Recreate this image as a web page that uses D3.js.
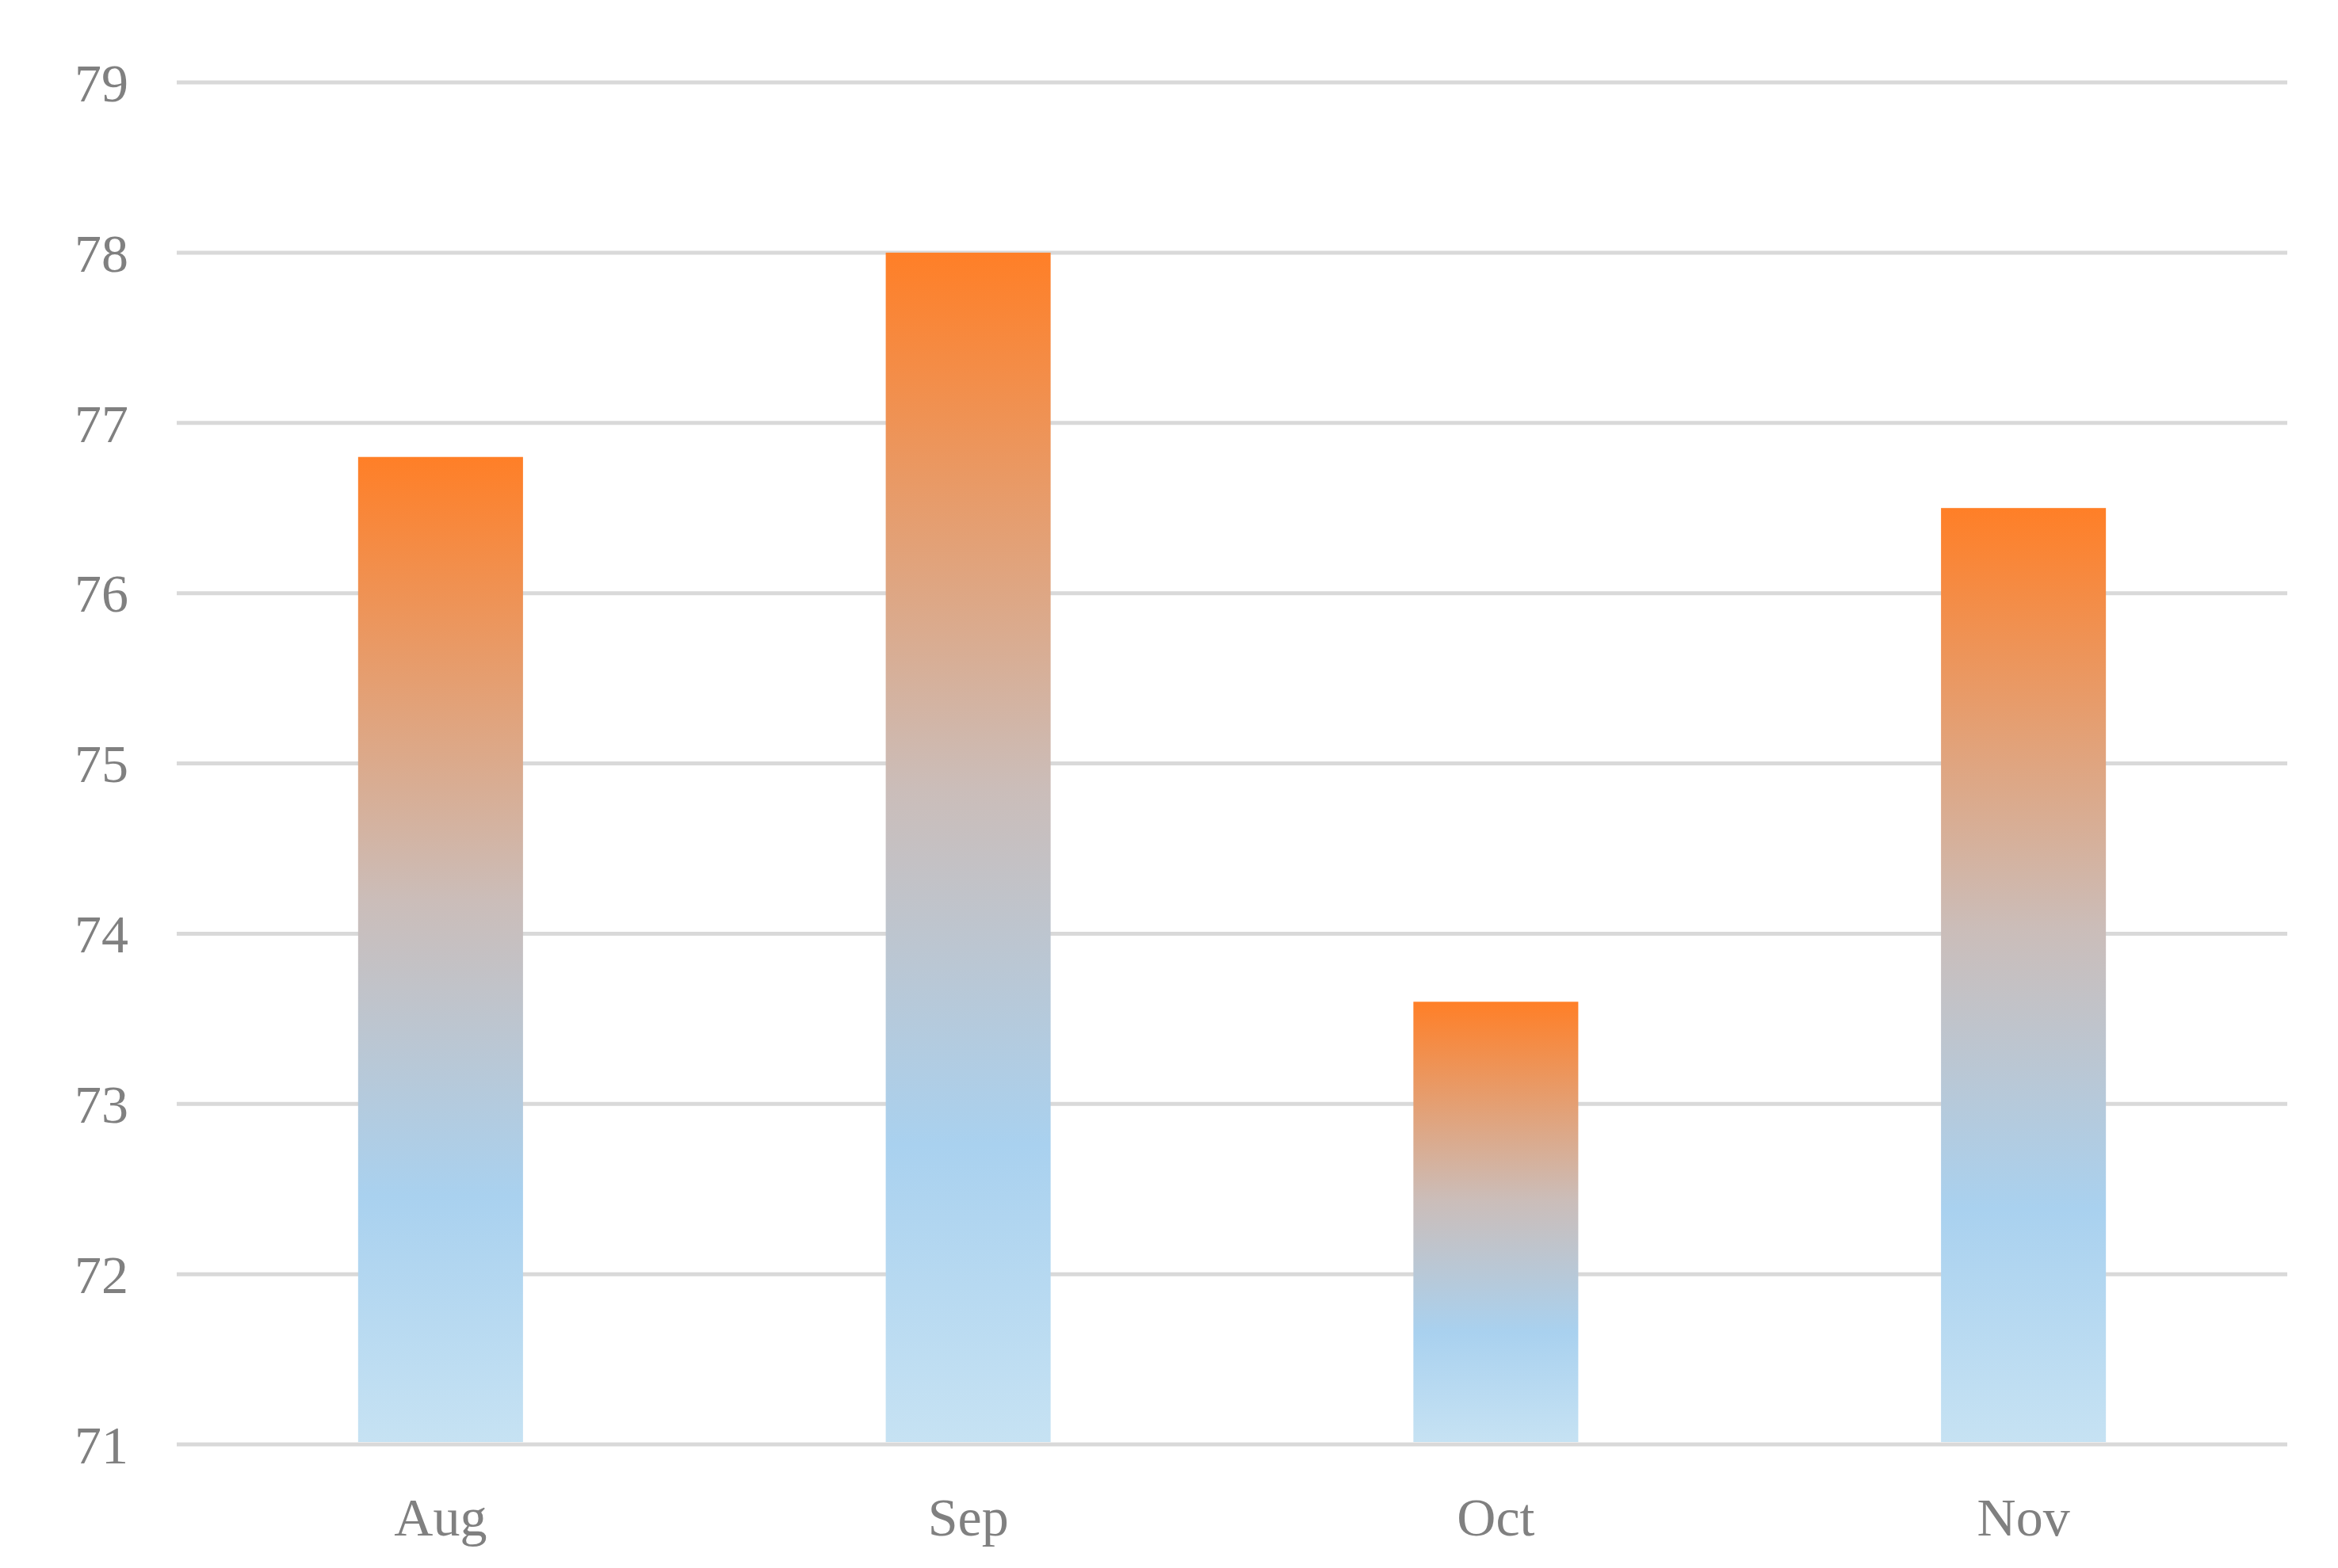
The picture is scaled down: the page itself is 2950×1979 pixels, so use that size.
<!DOCTYPE html>
<html><head><meta charset="utf-8">
<script src="https://cdn.jsdelivr.net/npm/d3@7"></script>
<style>body{margin:0;background:#fff}</style>
</head><body>
<div id="chart"></div>
<script>
var months = ["Aug", "Sep", "Oct", "Nov"];
var values = [76.8, 78.0, 73.6, 76.5];
var yTicks = [71, 72, 73, 74, 75, 76, 77, 78, 79];

var W = 2950, H = 1979;
var plotLeft = 223, plotRight = 2886, plotTop = 104, plotBottom = 1823;

var svg = d3.select("#chart").append("svg").attr("width", W).attr("height", H);

var grad = svg.append("defs").append("linearGradient")
    .attr("id", "barGrad").attr("x1", 0).attr("y1", 0).attr("x2", 0).attr("y2", 1);
grad.append("stop").attr("offset", "0%").attr("stop-color", "#ff7f27");
grad.append("stop").attr("offset", "45%").attr("stop-color", "#cbbdb9");
grad.append("stop").attr("offset", "75%").attr("stop-color", "#a9d1ef");
grad.append("stop").attr("offset", "100%").attr("stop-color", "#c6e2f3");

var y = d3.scaleLinear().domain([71, 79]).range([plotBottom, plotTop]);
var x = d3.scaleBand().domain(months).range([plotLeft, plotRight]);
var bw = x.bandwidth() * 0.3125;

svg.selectAll("line.grid").data(yTicks).enter().append("line")
    .attr("x1", plotLeft).attr("x2", plotRight)
    .attr("y1", d => y(d)).attr("y2", d => y(d))
    .attr("stroke", "#d9d9d9").attr("stroke-width", 5);

svg.selectAll("rect.bar").data(values).enter().append("rect")
    .attr("x", (d, i) => x(months[i]) + (x.bandwidth() - bw) / 2)
    .attr("width", bw)
    .attr("y", d => y(d))
    .attr("height", d => y(71) - y(d) - 3)
    .attr("fill", "url(#barGrad)");

svg.selectAll("text.yl").data(yTicks).enter().append("text")
    .attr("x", 162).attr("y", d => y(d)).attr("dy", "0.35em")
    .attr("text-anchor", "end")
    .style("font-family", "'Liberation Serif', serif").style("font-size", "68px")
    .attr("fill", "#808080").text(d => d);

svg.selectAll("text.xl").data(months).enter().append("text")
    .attr("x", d => x(d) + x.bandwidth() / 2).attr("y", 1938)
    .attr("text-anchor", "middle")
    .style("font-family", "'Liberation Serif', serif").style("font-size", "68px")
    .attr("fill", "#808080").text(d => d);
</script>
</body></html>
